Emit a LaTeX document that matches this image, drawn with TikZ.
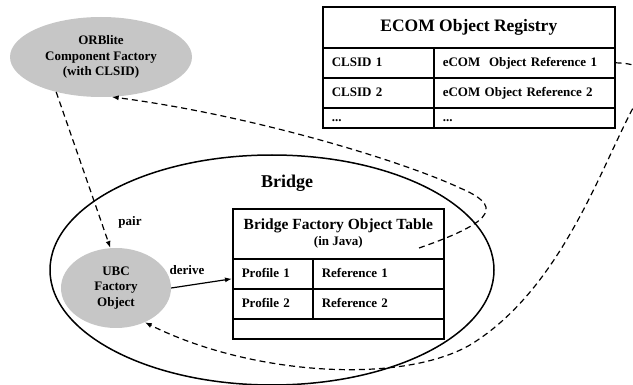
\documentclass[tikz,border=0pt]{standalone}
\usepackage{fontspec}
\setmainfont{Liberation Serif}
\usetikzlibrary{shapes.geometric,arrows.meta,calc}
\definecolor{factorygray}{RGB}{198,198,198}
\begin{document}
\begin{tikzpicture}[x=1pt,y=-1pt,
  cell/.style={draw, line width=1.6pt, anchor=north west, inner xsep=9pt, inner ysep=0pt,
    align=left, text height=10pt, text depth=2pt, font=\fontsize{13}{15}\selectfont\bfseries},
  headcell/.style={draw, line width=1.6pt, anchor=north west, inner sep=0pt, align=center},
  factory/.style={ellipse, fill=factorygray, inner sep=0pt, align=center,
    font=\fontsize{13}{15.5}\selectfont\bfseries},
  lbl/.style={font=\fontsize{13}{15}\selectfont\bfseries},
  tip/.style={-{Latex[length=7pt,width=5pt]}},
  link/.style={dash pattern=on 6pt off 4pt, line width=1.2pt, tip},
]
\useasboundingbox (0,0) rectangle (633,385);

% bridge container
\node[draw, ellipse, line width=1.5pt, minimum width=444pt, minimum height=230pt, inner sep=0pt]
  (bridge) at (272,270) {};
\node[font=\fontsize{18}{20}\selectfont\bfseries] (bridgelbl) at (287,183) {Bridge};

% ECOM object registry
\node[headcell, minimum width=292pt, minimum height=41pt,
  font=\fontsize{17.5}{20}\selectfont\bfseries] (regtitle) at (322,6) {ECOM Object Registry};
\node[cell, text width=93pt, minimum height=30pt] (ca) at (322,47) {CLSID 1};
\node[cell, text width=163pt, minimum height=30pt] (ea) at (433,47) {eCOM~ Object Reference 1};
\node[cell, text width=93pt, minimum height=30pt] (cb) at (322,77) {CLSID 2};
\node[cell, text width=163pt, minimum height=30pt] (eb) at (433,77) {eCOM Object Reference 2};
\node[cell, text width=93pt, minimum height=20pt] (cc) at (322,107) {...};
\node[cell, text width=163pt, minimum height=20pt] (ec) at (433,107) {...};

% bridge factory object table
\node[headcell, minimum width=211pt, minimum height=50pt,
  font=\fontsize{15.5}{17}\selectfont\bfseries] (bftitle) at (232,208)
  {Bridge Factory Object Table\\[-1pt]{\fontsize{13}{15}\selectfont (in Java)}};
\node[cell, text width=62pt, minimum height=30pt] (pa) at (232,258) {Profile 1};
\node[cell, text width=113pt, minimum height=30pt] (ra) at (312,258) {Reference 1};
\node[cell, text width=62pt, minimum height=30pt] (pb) at (232,288) {Profile 2};
\node[cell, text width=113pt, minimum height=30pt] (rb) at (312,288) {Reference 2};
\node[cell, text width=193pt, minimum height=20pt] (pc) at (232,318) {};

% factories
\node[factory, minimum width=182pt, minimum height=80pt] (orb) at (101,57)
  {ORBlite\\Component Factory\\(with CLSID)};
\node[factory, minimum width=110pt, minimum height=80pt] (ubc) at (116,288)
  {UBC\\Factory\\Object};

% labels
\node[lbl] (pairlbl) at (130,222) {pair};
\node[lbl] (derivelbl) at (187,270) {derive};

% connectors
\draw[link] (orb.218) -- (ubc.98);
\draw[line width=1.2pt, tip] (ubc.east) -- ([yshift=-5pt]pa.west);
\coordinate (bfstart) at (419,248);
\draw[link] (bfstart) .. controls (500,220) and (500,205) .. (460,188)
  .. controls (400,160) and (250,115) .. (orb.-75);
\draw[link] (ea.east) .. controls (655,64) and (648,80) .. (633,108)
  .. controls (600,170) and (560,290) .. (470,345)
  .. controls (400,385) and (250,375) .. (ubc.-50);
\end{tikzpicture}
\end{document}
